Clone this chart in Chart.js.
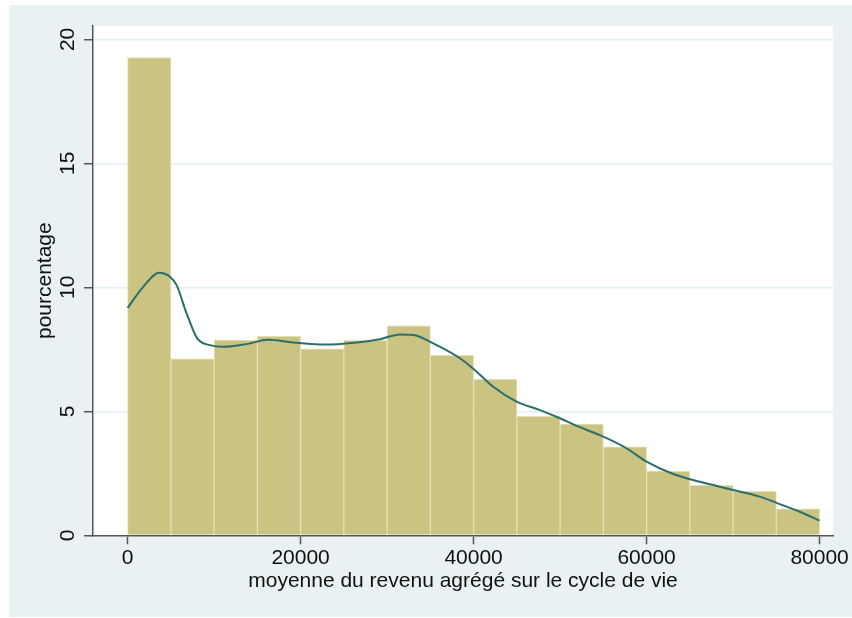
<!DOCTYPE html>
<html>
<head>
<meta charset="utf-8">
<script src="https://cdn.jsdelivr.net/npm/chart.js@4"></script>
<style>
  html, body { margin: 0; padding: 0; background: #ffffff; }
  #c { display: block; }
</style>
</head>
<body>
<canvas id="c" width="852" height="618"></canvas>
<script>
// Histogram bins (width 5000), centre of each bin and its share in percent
const binCenters = [2500, 7500, 12500, 17500, 22500, 27500, 32500, 37500,
                    42500, 47500, 52500, 57500, 62500, 67500, 72500, 77500];
const binPercents = [19.27, 7.12, 7.87, 8.02, 7.52, 7.86, 8.45, 7.26,
                     6.29, 4.80, 4.49, 3.57, 2.59, 2.02, 1.77, 1.07];

// Kernel density estimate, rescaled to percent per bin
const densityX = [0, 1800, 3650, 4890, 5665, 6820, 8050, 9510, 11050, 13760,
                  16250, 19150, 23000, 26470, 29170, 31480, 33020, 35330, 38420,
                  40350, 42270, 44970, 47670, 49980, 51910, 54600, 57690, 60000,
                  63080, 66160, 70010, 73090, 75020, 77710, 80000];
const densityY = [9.17, 10.02, 10.59, 10.43, 10.09, 8.95, 7.94, 7.67, 7.60, 7.71,
                  7.89, 7.78, 7.69, 7.78, 7.91, 8.10, 8.08, 7.74, 7.14,
                  6.60, 5.99, 5.39, 5.05, 4.72, 4.41, 4.04, 3.51, 2.97,
                  2.47, 2.16, 1.83, 1.56, 1.31, 0.95, 0.59];

const xTicks = [0, 20000, 40000, 60000, 80000];
const yTicks = [0, 5, 10, 15, 20];
const xTitle = 'moyenne du revenu agrégé sur le cycle de vie';
const yTitle = 'pourcentage';

const FONT = '21px "Liberation Sans", Arial, Helvetica, sans-serif';
const PANEL = '#EAF1F3';
const AXIS = '#555555';
const TEXT = '#111111';

// Light panel behind the white plot region
const panelPlugin = {
  id: 'panel',
  beforeDraw(chart) {
    const { ctx, chartArea: a } = chart;
    ctx.save();
    ctx.fillStyle = '#ffffff';
    ctx.fillRect(0, 0, chart.width, chart.height);
    ctx.fillStyle = PANEL;
    ctx.fillRect(9, 5, chart.width - 9, 612);
    ctx.fillStyle = '#ffffff';
    ctx.fillRect(a.left, a.top, a.right - a.left, a.bottom - a.top);
    ctx.restore();
  }
};

// Tick labels and axis titles (y labels are written vertically)
const labelPlugin = {
  id: 'labels',
  afterDraw(chart) {
    const { ctx, chartArea: a } = chart;
    const xs = chart.scales.x, ys = chart.scales.y;
    ctx.save();
    ctx.font = FONT;
    ctx.fillStyle = TEXT;
    ctx.textBaseline = 'alphabetic';
    ctx.textAlign = 'center';
    xTicks.forEach(v => {
      ctx.fillText(String(v), xs.getPixelForValue(v), 564);
    });
    ctx.fillText(xTitle, (a.left + a.right) / 2, 586.5);
    yTicks.forEach(v => {
      ctx.save();
      ctx.translate(73.5, ys.getPixelForValue(v));
      ctx.rotate(-Math.PI / 2);
      ctx.fillText(String(v), 0, 0);
      ctx.restore();
    });
    ctx.save();
    ctx.translate(50.5, (a.top + a.bottom) / 2);
    ctx.rotate(-Math.PI / 2);
    ctx.fillText(yTitle, 0, 0);
    ctx.restore();
    ctx.restore();
  }
};

new Chart(document.getElementById('c'), {
  type: 'bar',
  data: {
    datasets: [
      {
        type: 'line',
        data: densityX.map((x, i) => ({ x, y: densityY[i] })),
        borderColor: '#2B6E6A',
        borderWidth: 2,
        pointRadius: 0,
        cubicInterpolationMode: 'monotone',
        fill: false,
        order: 1
      },
      {
        type: 'bar',
        data: binCenters.map((x, i) => ({ x, y: binPercents[i] })),
        backgroundColor: '#CBC382',
        borderColor: '#E4E0B6',
        borderWidth: 1,
        barPercentage: 1,
        categoryPercentage: 1,
        order: 2
      }
    ]
  },
  options: {
    responsive: false,
    animation: false,
    devicePixelRatio: 1,
    layout: { padding: { top: 26, right: 19, left: 0, bottom: 0 } },
    plugins: { legend: { display: false }, tooltip: { enabled: false } },
    scales: {
      x: {
        type: 'linear',
        offset: false,
        min: -4000,
        max: 81550,
        afterBuildTicks: s => { s.ticks = xTicks.map(v => ({ value: v })); },
        afterFit: s => { s.height = 618 - 535.3; },
        ticks: { display: false },
        grid: { offset: false, drawOnChartArea: false, drawTicks: true, tickLength: 9, tickColor: AXIS, tickWidth: 1.5 },
        border: { color: AXIS, width: 1.5 }
      },
      y: {
        type: 'linear',
        min: 0,
        max: 20.54,
        afterBuildTicks: s => { s.ticks = yTicks.map(v => ({ value: v })); },
        afterFit: s => { s.width = 93; },
        ticks: { display: false },
        grid: { color: '#E5EEF1', lineWidth: 1.5, drawTicks: true, tickLength: 9, tickColor: AXIS, tickWidth: 1.5 },
        border: { color: AXIS, width: 1.5 }
      }
    }
  },
  plugins: [panelPlugin, labelPlugin]
});
</script>
</body>
</html>
